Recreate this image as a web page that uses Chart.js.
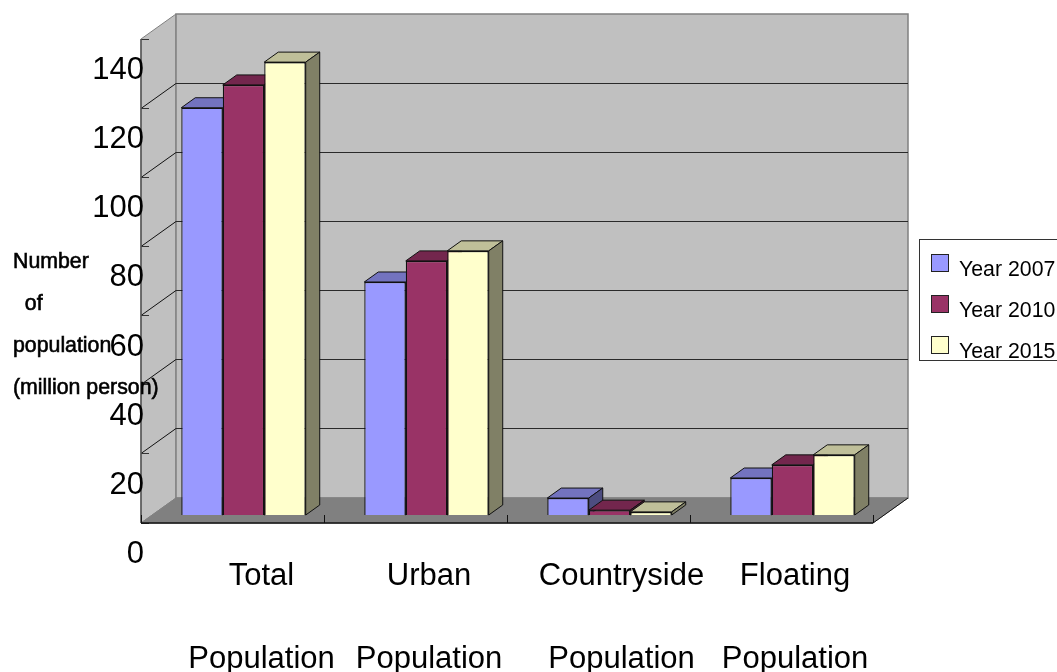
<!DOCTYPE html>
<html lang="en">
<head>
  <meta charset="UTF-8" />
  <title>Population chart</title>
  <script src="https://cdn.jsdelivr.net/npm/chart.js"></script>
  <style>
    html, body {
      margin: 0;
      padding: 0;
      background: #fff;
      overflow: hidden;
    }
    #chart {
      display: block;
    }
  </style>
</head>
<body>
  <canvas id="chart" width="1057" height="672"></canvas>

<script>
  const categoryTop = ['Total', 'Urban', 'Countryside', 'Floating'];
  const categoryBottom = ['Population', 'Population', 'Population', 'Population'];
  const seriesNames = ['Year 2007', 'Year 2010', 'Year 2015'];
  const year2007 = [117.8, 67.4, 4.9, 10.7];
  const year2010 = [124.4, 73.5, 1.4, 14.5];
  const year2015 = [131, 76.4, 0.9, 17.4];
  const yTitleLines = ['Number', '  of', 'population', '(million person)'];

  const FONT = '"Liberation Sans", Arial, sans-serif';
  const seriesColors = ['#9999FF', '#993366', '#FFFFCC'];
  const topColors = ['#7373BF', '#73264D', '#BFBF99'];
  const sideColors = ['#4D4D80', '#4D1A33', '#808066'];

  // depth of the floor, and of the bars standing on it
  const WALL_DX = 35, WALL_DY = 25;
  const BAR_OFF_X = 11, BAR_OFF_Y = 8;
  const BAR_DX = 14, BAR_DY = 10;
  // the two-line labels are not centred on their categories
  const labelShift = [29, 13.5, 23, 13.5];

  function poly(ctx, pts, fill, stroke, lw) {
    ctx.beginPath();
    pts.forEach((p, i) => i ? ctx.lineTo(p[0], p[1]) : ctx.moveTo(p[0], p[1]));
    ctx.closePath();
    if (fill) {
      ctx.fillStyle = fill;
      ctx.fill();
    }
    if (stroke) {
      ctx.strokeStyle = stroke;
      ctx.lineWidth = lw || 1;
      ctx.stroke();
    }
  }

  function line(ctx, x1, y1, x2, y2, color, lw) {
    ctx.beginPath();
    ctx.moveTo(x1, y1);
    ctx.lineTo(x2, y2);
    ctx.strokeStyle = color;
    ctx.lineWidth = lw || 1;
    ctx.stroke();
  }

  function drawWalls(chart) {
    const ctx = chart.ctx;
    const { left, right, top, bottom } = chart.chartArea;
    const y = chart.scales.y;
    const x = chart.scales.x;

    // left wall, back wall, floor
    poly(ctx, [[left, top], [left + WALL_DX, top - WALL_DY], [left + WALL_DX, bottom - WALL_DY], [left, bottom]], '#C0C0C0', '#808080', 1);
    poly(ctx, [[left + WALL_DX, top - WALL_DY], [right + WALL_DX, top - WALL_DY], [right + WALL_DX, bottom - WALL_DY], [left + WALL_DX, bottom - WALL_DY]], '#C0C0C0', '#808080', 1.5);
    poly(ctx, [[left, bottom], [left + WALL_DX, bottom - WALL_DY], [right + WALL_DX, bottom - WALL_DY], [right, bottom]], '#808080', '#808080', 1);

    // gridlines run along the left wall and across the back wall
    y.ticks.forEach(t => {
      const py = Math.floor(y.getPixelForValue(t.value)) + 0.5;
      if (t.value > 0 && t.value < y.max) {
        line(ctx, left + WALL_DX, py - WALL_DY, right + WALL_DX, py - WALL_DY, '#2a2a2a', 1);
        line(ctx, left, py, left + WALL_DX, py - WALL_DY, '#111', 1);
      }
      line(ctx, left, py, left + 8, py, '#333', 1);
    });

    line(ctx, left, top, left, bottom, '#555', 1.5);
    line(ctx, left, bottom, right, bottom, '#111', 1.5);
    line(ctx, right, bottom, right + WALL_DX, bottom - WALL_DY, '#111', 1);

    // category boundaries on the front edge of the floor
    for (let i = 0; i <= categoryTop.length; i++) {
      const px = Math.round(x.getPixelForValue(i - 0.5)) + 0.5;
      line(ctx, px, bottom, px, bottom - 8, '#111', 1);
    }
  }

  function drawSeries(chart, index) {
    const ctx = chart.ctx;
    const meta = chart.getDatasetMeta(index);
    ctx.save();
    ctx.translate(BAR_OFF_X, -BAR_OFF_Y);
    meta.data.forEach(bar => {
      const xl = bar.x - bar.width / 2;
      const xr = bar.x + bar.width / 2;
      poly(ctx, [[xl, bar.y], [xl + BAR_DX, bar.y - BAR_DY], [xr + BAR_DX, bar.y - BAR_DY], [xr, bar.y]], topColors[index], '#111', 1);
      poly(ctx, [[xr, bar.y], [xr + BAR_DX, bar.y - BAR_DY], [xr + BAR_DX, bar.base - BAR_DY], [xr, bar.base]], sideColors[index], '#111', 1);
    });
    meta.controller.draw();
    ctx.restore();
  }

  function drawTexts(chart) {
    const ctx = chart.ctx;
    const y = chart.scales.y;
    const x = chart.scales.x;
    ctx.fillStyle = '#000';

    // value labels hang below their ticks
    ctx.font = '31px ' + FONT;
    ctx.textAlign = 'right';
    ctx.textBaseline = 'middle';
    y.ticks.forEach(t => {
      ctx.fillText(t.label, chart.chartArea.left + 3, y.getPixelForValue(t.value) + 31.5);
    });

    ctx.textAlign = 'center';
    ctx.textBaseline = 'alphabetic';
    categoryTop.forEach((name, i) => {
      const cx = x.getPixelForValue(i) + labelShift[i];
      ctx.fillText(name, cx, 585);
      ctx.fillText(categoryBottom[i], cx, 668);
    });

    // axis title, slightly heavier than regular weight
    ctx.font = '21.3px ' + FONT;
    ctx.textAlign = 'left';
    ctx.strokeStyle = '#000';
    ctx.lineWidth = 0.6;
    yTitleLines.forEach((txt, i) => {
      const ty = 268 + i * 42;
      ctx.fillText(txt, 13, ty);
      ctx.strokeText(txt, 13, ty);
    });
  }

  function drawLegend(chart) {
    const ctx = chart.ctx;
    ctx.fillStyle = '#fff';
    ctx.fillRect(919.5, 239.5, 140, 121);
    ctx.strokeStyle = '#333';
    ctx.lineWidth = 1;
    ctx.strokeRect(919.5, 239.5, 140, 121);

    ctx.font = '21.3px ' + FONT;
    ctx.textAlign = 'left';
    ctx.textBaseline = 'middle';
    seriesNames.forEach((name, i) => {
      const sy = 254.5 + i * 41;
      ctx.fillStyle = seriesColors[i];
      ctx.fillRect(931.5, sy, 17, 17);
      ctx.strokeStyle = '#222';
      ctx.strokeRect(931.5, sy, 17, 17);
      ctx.fillStyle = '#000';
      ctx.fillText(name, 959, 270 + i * 41);
    });
  }

  // Chart.js paints the first dataset last; here later series must sit in front
  const scene3d = {
    id: 'scene3d',
    beforeDatasetsDraw(chart) {
      drawWalls(chart);
      chart.data.datasets.forEach((ds, i) => drawSeries(chart, i));
      return false;
    },
    afterDraw(chart) {
      drawTexts(chart);
      drawLegend(chart);
    }
  };

  const allSeries = [year2007, year2010, year2015];

  new Chart(document.getElementById('chart').getContext('2d'), {
    type: 'bar',
    data: {
      labels: categoryTop,
      datasets: seriesNames.map((name, i) => ({
        label: name,
        data: allSeries[i],
        backgroundColor: seriesColors[i],
        borderColor: '#111',
        borderWidth: 1.3,
        categoryPercentage: 0.68,
        barPercentage: 1
      }))
    },
    options: {
      responsive: false,
      animation: false,
      layout: {
        padding: { left: 141, right: 184, top: 39, bottom: 149 }
      },
      plugins: {
        legend: { display: false },
        tooltip: { enabled: false }
      },
      scales: {
        x: {
          grid: { display: false, drawTicks: false, tickLength: 0 },
          border: { display: false },
          ticks: { display: false }
        },
        y: {
          min: 0,
          max: 140,
          grid: { display: false, drawTicks: false, tickLength: 0 },
          border: { display: false },
          ticks: { display: false, stepSize: 20 }
        }
      }
    },
    plugins: [scene3d]
  });
</script>
</body>
</html>
